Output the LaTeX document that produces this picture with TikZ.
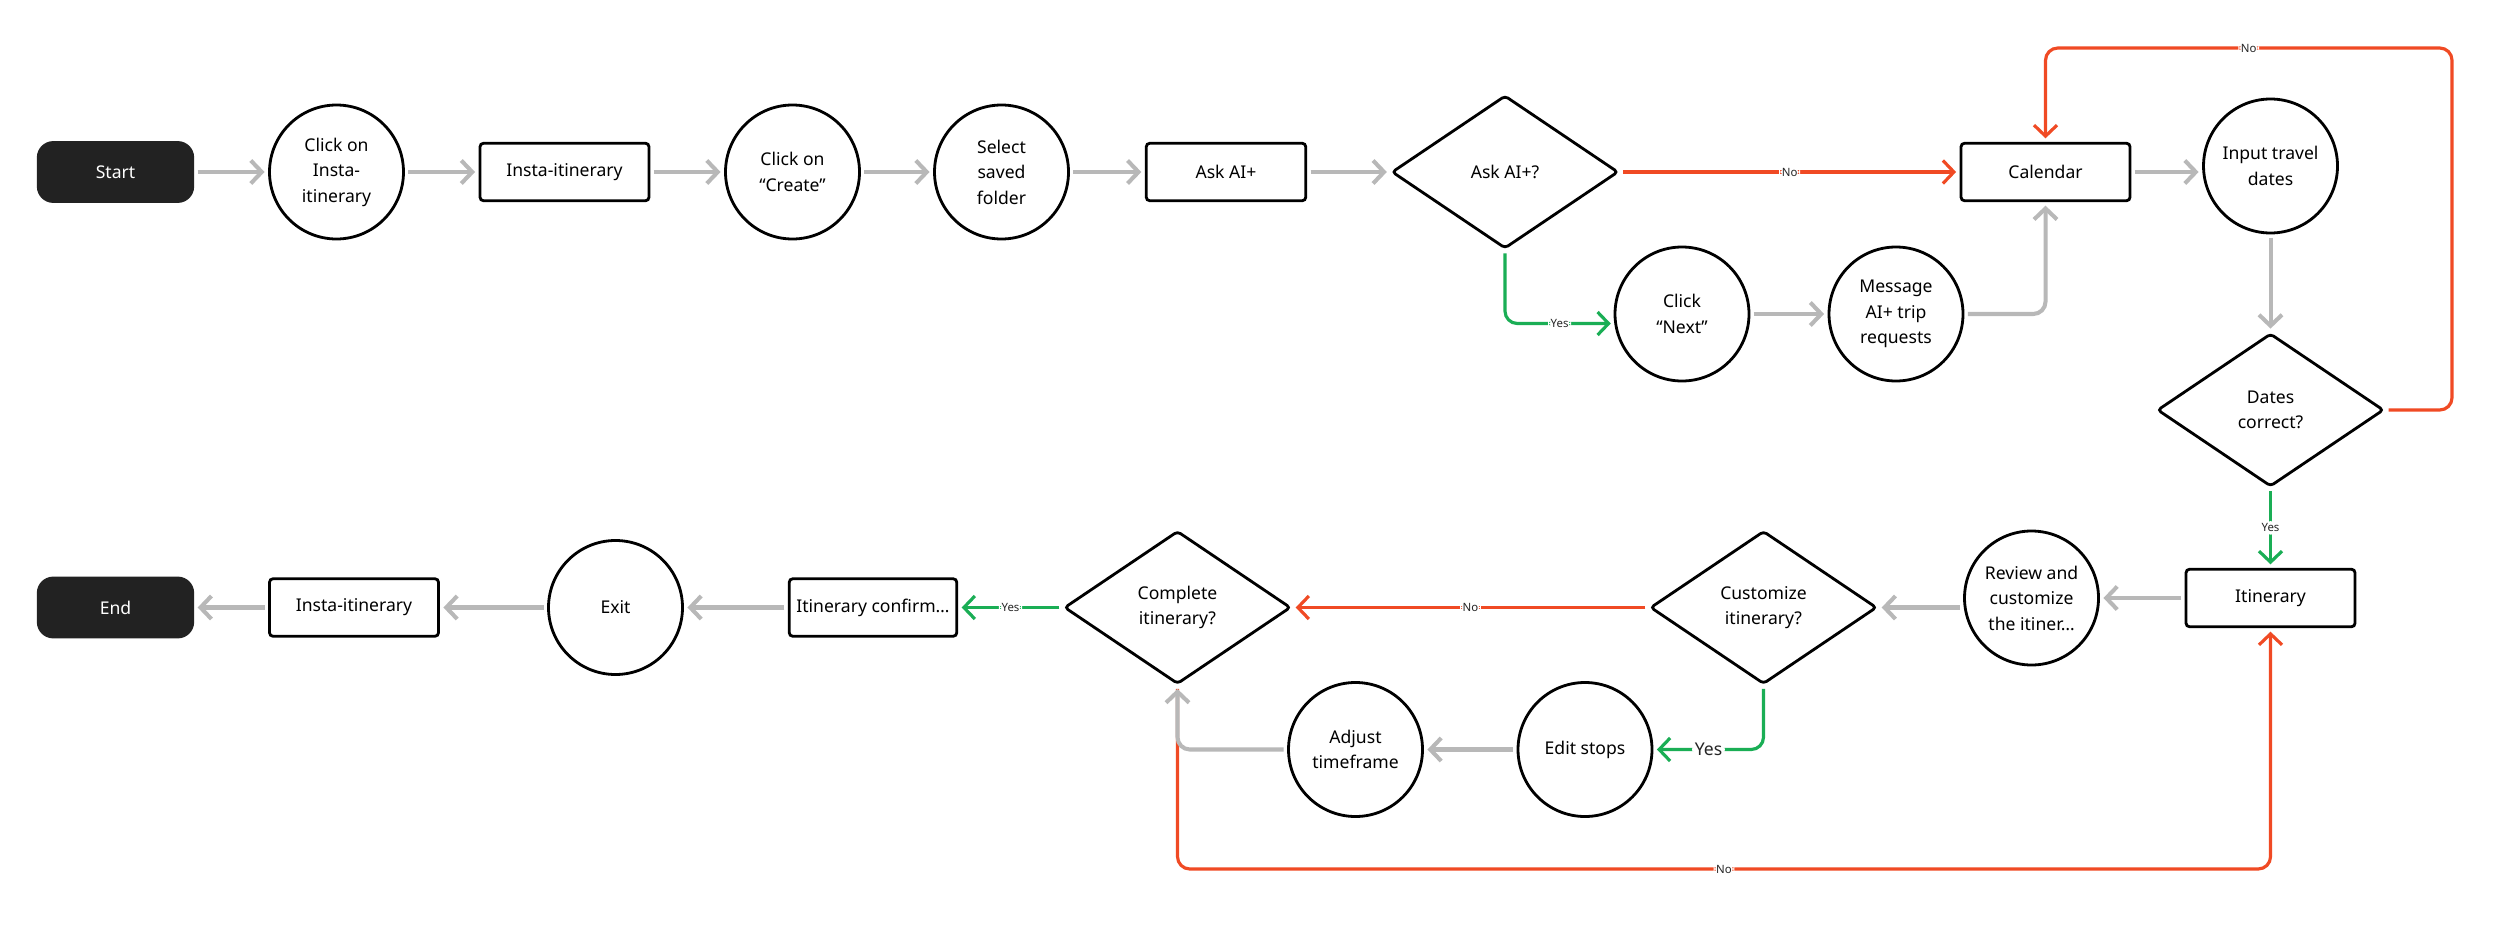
\documentclass[tikz,border=0pt]{standalone}
\usepackage{fontspec}
\setmainfont{Noto Sans}
\usepackage{xcolor}
\definecolor{flowGray}{HTML}{B8B8B8}
\definecolor{noRed}{HTML}{F04A24}
\definecolor{yesGreen}{HTML}{1AAE55}
\definecolor{termBlack}{HTML}{222222}
\usetikzlibrary{arrows.meta, positioning, shapes.geometric, calc}

\begin{document}
\begin{tikzpicture}[
  base/.style={draw=black, line width=1.6pt, align=center, font=\fontsize{10}{14.5}\selectfont, inner sep=2pt},
  term/.style={base, fill=termBlack, draw=termBlack, text=white, rounded corners=0.3cm, minimum width=3.09cm, minimum height=1.18cm},
  act/.style={base, rounded corners=2pt, minimum width=3.38cm, minimum height=1.15cm},
  stepc/.style={base, circle, minimum size=2.68cm, inner sep=0pt},
  ask/.style={base, diamond, rounded corners=2pt, minimum width=4.53cm, minimum height=3.06cm, inner sep=0pt},
  go/.style={draw=flowGray, line width=2.3pt, rounded corners=7pt, -{Straight Barb[length=2.2mm, width=4.6mm]}, shorten <=2pt, shorten >=2pt},
  noflow/.style={go, draw=noRed, line width=1.8pt},
  yesflow/.style={go, draw=yesGreen, line width=1.8pt},
  lbl/.style={fill=white, inner sep=1.5pt, font=\fontsize{6.5}{7}\selectfont, text=black!85}
]
  \fill[white] (0,0) rectangle (50,-18.65);

  % top row
  \node[term] (start) at (2.31,-3.44) {Start};
  \node[stepc] (tapinsta) at (6.73,-3.44) {Click on\\Insta-\\itinerary};
  \node[act] (insta) at (11.29,-3.44) {Insta-itinerary};
  \node[stepc] (create) at (15.85,-3.44) {Click on\\“Create”};
  \node[stepc] (folder) at (20.03,-3.44) {Select\\saved\\folder};
  \node[act, minimum width=3.19cm] (askai) at (24.52,-3.44) {Ask AI+};
  \node[ask] (askq) at (30.10,-3.44) {Ask AI+?};
  \node[act] (cal) at (40.91,-3.44) {Calendar};
  \node[stepc] (dates) at (45.41,-3.32) {Input travel\\dates};
  \node[stepc] (next) at (33.64,-6.28) {Click\\“Next”};
  \node[stepc] (msg) at (37.92,-6.28) {Message\\AI+ trip\\requests};
  \node[ask] (datesq) at (45.41,-8.20) {Dates\\correct?};

  % bottom row
  \node[act] (itin) at (45.41,-11.96) {Itinerary};
  \node[stepc] (review) at (40.63,-11.96) {Review and\\customize\\the itiner…};
  \node[ask] (custq) at (35.27,-12.15) {Customize\\itinerary?};
  \node[ask] (compq) at (23.55,-12.15) {Complete\\itinerary?};
  \node[act, minimum width=3.35cm] (confirm) at (17.46,-12.15) {Itinerary confirm…};
  \node[stepc] (exit) at (12.31,-12.15) {Exit};
  \node[act] (insta2) at (7.08,-12.15) {Insta-itinerary};
  \node[term] (end) at (2.31,-12.15) {End};
  \node[stepc] (edit) at (31.70,-14.99) {Edit stops};
  \node[stepc] (adjust) at (27.11,-14.99) {Adjust\\timeframe};

  \coordinate (loopNE) at (49.04,-0.96);
  \coordinate (lowrail) at (0,-17.38);

  \foreach \a/\b in {start/tapinsta, tapinsta/insta, insta/create, create/folder, folder/askai, askai/askq, next/msg, dates/datesq, itin/review, confirm/exit, exit/insta2, insta2/end, edit/adjust}
    \draw[go] (\a) -- (\b);

  \draw[go] (cal.east) -- (cal.east -| dates.west);
  \draw[noflow] (askq.east) -- node[lbl] {No} (cal.west);
  \draw[yesflow] (askq.south) |- node[lbl, pos=0.75] {Yes} (next.188);
  \draw[go] (msg.east) -| (cal.south);
  \draw[noflow] (datesq.east) -| (loopNE) -| node[lbl, pos=0.25] {No} (cal.north);
  \draw[yesflow] (datesq.south) -- node[lbl] {Yes} (itin.north);
  \draw[go] (custq.east -| review.west) -- (custq.east);
  \draw[noflow] (custq.west) -- node[lbl] {No} (compq.east);
  \draw[yesflow] (compq.west) -- node[lbl] {Yes} (confirm.east);
  \draw[yesflow] (custq.south) |- node[lbl, pos=0.75, font=\fontsize{10}{12}\selectfont] {Yes} (edit.east);
  \draw[noflow] (compq.south) |- node[lbl, pos=0.75] {No} (lowrail -| itin.south) -- (itin.south);
  \draw[go] (adjust.west) -| (compq.south);
\end{tikzpicture}
\end{document}
